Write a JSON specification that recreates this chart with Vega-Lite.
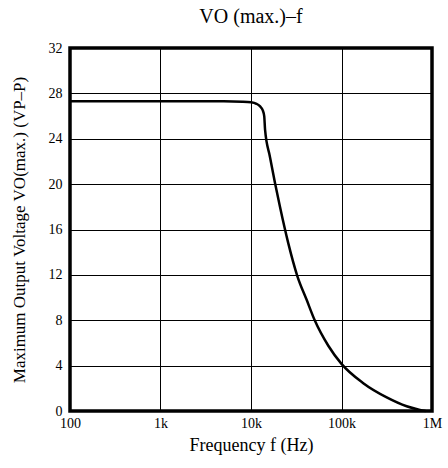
{
  "$schema": "https://vega.github.io/schema/vega-lite/v6.json",
  "autosize": "none",
  "width": 362,
  "height": 363,
  "padding": {"left": 70, "top": 48, "right": 16, "bottom": 57},
  "background": "white",
  "title": {
    "text": "VO (max.)–f",
    "font": "Liberation Serif",
    "fontSize": 20,
    "fontWeight": "normal",
    "color": "black",
    "anchor": "middle",
    "offset": 14
  },
  "config": {
    "view": {"stroke": "black", "strokeWidth": 3.5},
    "axis": {
      "labelFont": "Liberation Serif",
      "titleFont": "Liberation Serif",
      "labelFontSize": 14,
      "titleFontSize": 18,
      "titleFontWeight": "normal",
      "labelColor": "black",
      "titleColor": "black",
      "gridColor": "black",
      "gridOpacity": 1,
      "gridWidth": 1,
      "domain": false,
      "ticks": false
    }
  },
  "data": {
    "values": [
      {"f": 100, "v": 27.3},
      {"f": 1000, "v": 27.3},
      {"f": 5000, "v": 27.3},
      {"f": 8000, "v": 27.27},
      {"f": 10000, "v": 27.22},
      {"f": 11500, "v": 27.08},
      {"f": 12600, "v": 26.85},
      {"f": 13500, "v": 26.5},
      {"f": 14000, "v": 26.0},
      {"f": 14300, "v": 24.8},
      {"f": 16200, "v": 22.4},
      {"f": 20900, "v": 18.0},
      {"f": 25800, "v": 14.8},
      {"f": 32500, "v": 11.9},
      {"f": 41200, "v": 9.8},
      {"f": 50900, "v": 7.95},
      {"f": 71500, "v": 5.75},
      {"f": 100000, "v": 4.15},
      {"f": 174000, "v": 2.45},
      {"f": 316000, "v": 1.2},
      {"f": 525000, "v": 0.42},
      {"f": 736000, "v": 0.1},
      {"f": 850000, "v": 0.0}
    ]
  },
  "mark": {"type": "line", "color": "black", "strokeWidth": 2.5, "interpolate": "monotone"},
  "encoding": {
    "x": {
      "field": "f",
      "type": "quantitative",
      "scale": {"type": "log", "domain": [100, 1000000]},
      "axis": {
        "title": "Frequency  f (Hz)",
        "values": [100, 1000, 10000, 100000, 1000000],
        "labelExpr": "datum.value == 100 ? '100' : datum.value == 1000 ? '1k' : datum.value == 10000 ? '10k' : datum.value == 100000 ? '100k' : '1M'",
        "labelPadding": 5,
        "titlePadding": 6,
        "labelFlush": false
      }
    },
    "y": {
      "field": "v",
      "type": "quantitative",
      "scale": {"domain": [0, 32]},
      "axis": {
        "title": "Maximum Output Voltage  VO(max.) (VP–P)",
        "titleFontSize": 17,
        "values": [0, 4, 8, 12, 16, 20, 24, 28, 32],
        "labelPadding": 8,
        "titlePadding": 20,
        "labelFlush": false
      }
    }
  }
}
